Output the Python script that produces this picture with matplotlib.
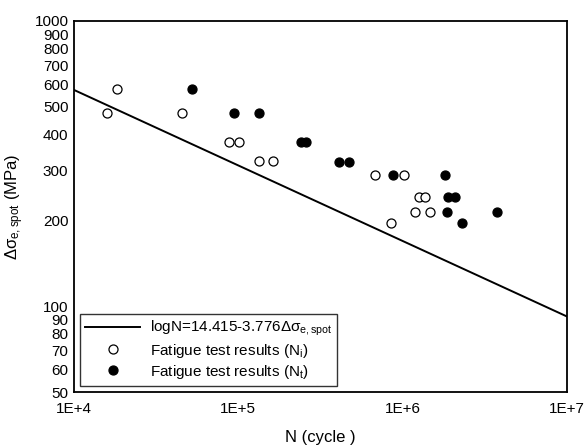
import numpy as np
import matplotlib
matplotlib.use("Agg")
import matplotlib.pyplot as plt

plt.rcParams['font.family'] = ['Liberation Sans', 'DejaVu Sans']
plt.rcParams['mathtext.fontset'] = 'custom'
plt.rcParams['mathtext.rm'] = 'Liberation Sans'
plt.rcParams['mathtext.it'] = 'Liberation Sans'
plt.rcParams['mathtext.sf'] = 'Liberation Sans'

# Fit line coefficients: logN = a - b*log(dS)
a_coef = 14.415
b_coef = 3.776
line_N = [1e4, 1e7]

# Fatigue test results (N_i) - open circles
ni_N = [15960, 18200, 45200, 88200, 101000, 134000, 162000,
        676000, 853000, 1015000, 1190000, 1259000, 1374000, 1462000]
ni_S = [474, 576, 474, 375, 375, 322, 322,
        288, 196, 288, 214, 242, 242, 214]

# Fatigue test results (N_t) - filled circles
nt_N = [52300, 94600, 134000, 241000, 259000, 412000, 472000,
        870000, 1820000, 1854000, 1897000, 2083000, 2290000, 3738000]
nt_S = [576, 474, 474, 375, 375, 321, 321,
        288, 288, 214, 242, 242, 196, 214]

xticks = [1e4, 1e5, 1e6, 1e7]
xticklabels = ['1E+4', '1E+5', '1E+6', '1E+7']
yticks = [50, 60, 70, 80, 90, 100, 200, 300, 400, 500, 600, 700, 800, 900, 1000]

fig = plt.figure(figsize=(5.87, 4.46), dpi=100)
ax = fig.add_axes([0.126, 0.121, 0.840, 0.832])

lx = np.array(line_N)
ly = 10 ** ((a_coef - np.log10(lx)) / b_coef)
ax.plot(lx, ly, color='black', lw=1.4,
        label=r'logN=14.415-3.776$\Delta\sigma_{\mathrm{e,spot}}$')
ax.plot(ni_N, ni_S, 'o', ls='none', mfc='white', mec='black', mew=0.9, ms=6.5,
        label=r'Fatigue test results (N$_\mathrm{i}$)')
ax.plot(nt_N, nt_S, 'o', ls='none', mfc='black', mec='black', mew=0.9, ms=6.5,
        label=r'Fatigue test results (N$_\mathrm{t}$)')

ax.set_xscale('log')
ax.set_yscale('log')
ax.set_xlim(1e4, 1e7)
ax.set_ylim(50, 1000)
ax.set_xticks(xticks)
ax.set_xticklabels(xticklabels)
ax.xaxis.set_minor_locator(matplotlib.ticker.NullLocator())
ax.set_yticks(yticks)
ax.set_yticklabels([str(v) for v in yticks])
ax.yaxis.set_minor_locator(matplotlib.ticker.NullLocator())
ax.tick_params(axis='both', which='both', length=0, labelsize=11)
ax.tick_params(axis='x', pad=7)
ax.tick_params(axis='y', pad=4)

for s in ax.spines.values():
    s.set_linewidth(1.3)

ax.set_xlabel('N (cycle )', fontsize=12, labelpad=10)
ax.set_ylabel(r'$\Delta\sigma_{\mathrm{e,spot}}$ (MPa)', fontsize=12, labelpad=6)

leg = ax.legend(loc='lower left', fontsize=11, frameon=True, fancybox=False,
                edgecolor='black', borderaxespad=0.4, handlelength=3.6,
                handletextpad=0.6, labelspacing=0.2, borderpad=0.35)
leg.get_frame().set_linewidth(1.0)

fig.savefig('out.png', dpi=100)
